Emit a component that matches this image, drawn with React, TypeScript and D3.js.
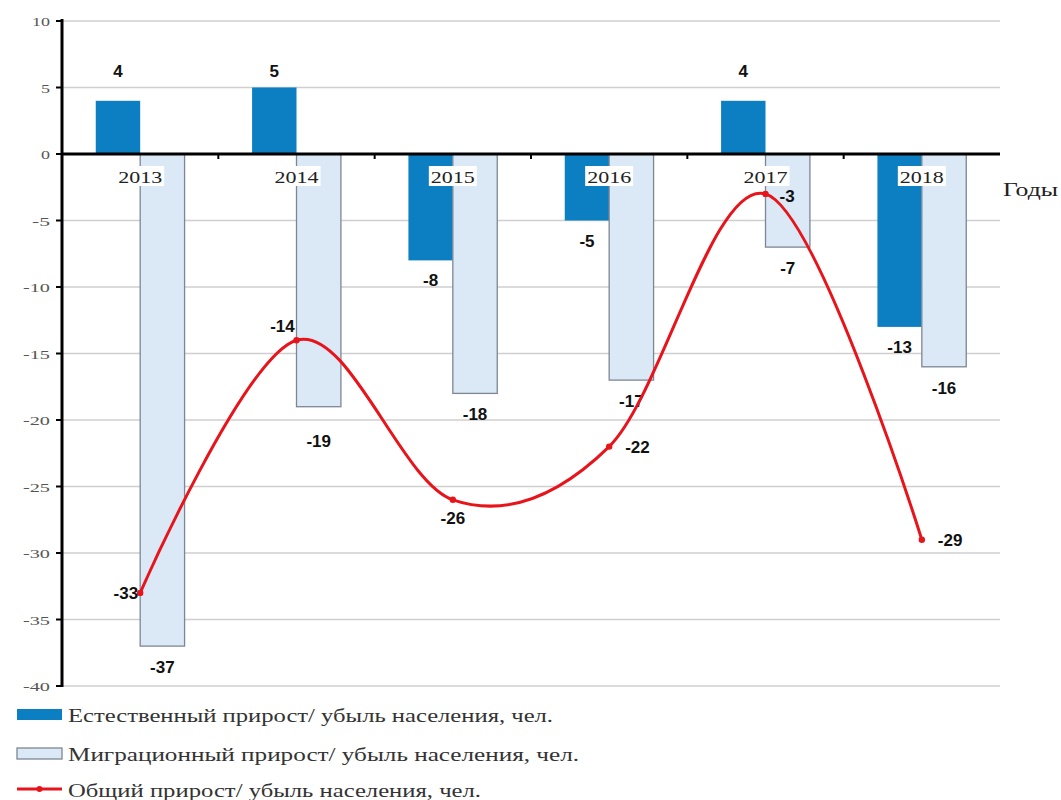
import * as d3 from 'd3'
import React from 'react'

const years = ['2013', '2014', '2015', '2016', '2017', '2018']
const natural = [4, 5, -8, -5, 4, -13]
const migration = [-37, -19, -18, -17, -7, -16]
const total = [-33, -14, -26, -22, -3, -29]
const yTicks = [10, 5, 0, -5, -10, -15, -20, -25, -30, -35, -40]
const legendLabels = [
  'Естественный прирост/ убыль населения, чел.',
  'Миграционный прирост/ убыль населения, чел.',
  'Общий прирост/ убыль населения, чел.',
]
// where each total label sits relative to its point
const totalLabelPos = ['left', 'aboveLeft', 'below', 'right', 'rightUp', 'right']

const W = 1061
const H = 800
const left = 62
const right = 1000
const top = 21
const bottom = 686

const BLUE = '#0b7fc1'
const LIGHT = '#dbe8f6'
const RED = '#e8141b'
const serif = '"Liberation Serif", "DejaVu Serif", serif'
const sans = '"Liberation Sans", Arial, sans-serif'

const App = () => {
  const y = d3.scaleLinear().domain([-40, 10]).range([bottom, top])
  const x = d3.scaleBand().domain(years).range([left, right]).padding(0)
  const x1 = d3.scaleBand().domain(['nat', 'mig']).range([0, x.bandwidth()]).paddingInner(0).paddingOuter(0.76)
  const cx = (yr) => x(yr) + x.bandwidth() / 2

  const line = d3
    .line()
    .x((d, i) => cx(years[i]))
    .y((d) => y(d))
    .curve(d3.curveCardinal.tension(0))

  const y0 = y(0)

  const labelProps = (pos, px, py) => {
    switch (pos) {
      case 'left':
        return { x: px - 2, y: py + 6, anchor: 'end' }
      case 'aboveLeft':
        return { x: px - 14, y: py - 8, anchor: 'middle' }
      case 'below':
        return { x: px, y: py + 24, anchor: 'middle' }
      case 'rightUp':
        return { x: px + 14, y: py + 8, anchor: 'start' }
      default:
        return { x: px + 16, y: py + 6, anchor: 'start' }
    }
  }

  return (
    <svg width={W} height={H} style={{ position: 'absolute', left: 0, top: 0, background: '#fff' }}>
      {/* gridlines */}
      {yTicks.map((t) => (
        <line key={'g' + t} x1={left} x2={right} y1={y(t)} y2={y(t)} stroke="#cfcfcf" strokeWidth={1.5} />
      ))}

      {/* bars */}
      {years.map((yr, i) => {
        const v = natural[i]
        return (
          <rect
            key={'n' + yr}
            x={x(yr) + x1('nat')}
            y={Math.min(y(v), y0)}
            width={x1.bandwidth()}
            height={Math.abs(y(v) - y0)}
            fill={BLUE}
          />
        )
      })}
      {years.map((yr, i) => {
        const v = migration[i]
        return (
          <rect
            key={'m' + yr}
            x={x(yr) + x1('mig')}
            y={Math.min(y(v), y0)}
            width={x1.bandwidth()}
            height={Math.abs(y(v) - y0)}
            fill={LIGHT}
            stroke="#7d8794"
            strokeWidth={1.3}
          />
        )
      })}

      {/* axes */}
      <line x1={left} x2={left} y1={top - 2} y2={bottom + 1} stroke="#000" strokeWidth={3} />
      {yTicks.map((t) => (
        <g key={'t' + t}>
          <line x1={left - 6} x2={left} y1={y(t)} y2={y(t)} stroke="#000" strokeWidth={2} />
          <text
            x={left - 12}
            y={y(t) + 5}
            textAnchor="end"
            fontFamily={serif}
            fontSize={13}
            fill="#555"
            textLength={String(t).length * 9}
            lengthAdjust="spacingAndGlyphs"
          >
            {t}
          </text>
        </g>
      ))}
      <line x1={left} x2={right} y1={y0} y2={y0} stroke="#000" strokeWidth={3} />
      {years.slice(1).map((yr) => (
        <line key={'xt' + yr} x1={x(yr)} x2={x(yr)} y1={y0} y2={y0 + 5} stroke="#000" strokeWidth={2} />
      ))}

      {/* year labels */}
      {years.map((yr) => (
        <g key={'yl' + yr}>
          <rect x={cx(yr) - 24} y={y0 + 12} width={48} height={20} fill="#fff" />
          <text
            x={cx(yr)}
            y={y0 + 29}
            textAnchor="middle"
            fontFamily={serif}
            fontSize={16}
            fill="#222"
            textLength={44}
            lengthAdjust="spacingAndGlyphs"
          >
            {yr}
          </text>
        </g>
      ))}
      <text
        x={1003}
        y={196}
        fontFamily={serif}
        fontSize={19}
        fill="#222"
        textLength={55}
        lengthAdjust="spacingAndGlyphs"
      >
        Годы
      </text>

      {/* bar labels */}
      {years.map((yr, i) => {
        const v = natural[i]
        const ly = v >= 0 ? y(5) - 11 : y(v) + 26
        return (
          <text
            key={'nl' + yr}
            x={x(yr) + x1('nat') + x1.bandwidth() / 2}
            y={ly}
            textAnchor="middle"
            fontFamily={sans}
            fontWeight="bold"
            fontSize={17}
            fill="#111"
          >
            {v}
          </text>
        )
      })}
      {years.map((yr, i) => {
        const v = migration[i]
        return (
          <text
            key={'ml' + yr}
            x={x(yr) + x1('mig') + x1.bandwidth() / 2}
            y={y(v) + (v === -19 ? 40 : 27)}
            textAnchor="middle"
            fontFamily={sans}
            fontWeight="bold"
            fontSize={17}
            fill="#111"
          >
            {v}
          </text>
        )
      })}

      {/* total line */}
      <path d={line(total)} fill="none" stroke={RED} strokeWidth={3} />
      {total.map((v, i) => (
        <circle key={'c' + i} cx={cx(years[i])} cy={y(v)} r={3.2} fill={RED} />
      ))}
      {total.map((v, i) => {
        const p = labelProps(totalLabelPos[i], cx(years[i]), y(v))
        return (
          <text
            key={'tl' + i}
            x={p.x}
            y={p.y}
            textAnchor={p.anchor}
            fontFamily={sans}
            fontWeight="bold"
            fontSize={17}
            fill="#111"
          >
            {v}
          </text>
        )
      })}

      {/* legend */}
      <g>
        <rect x={17} y={709} width={45} height={11} fill={BLUE} />
        <text x={68} y={722} fontFamily={serif} fontSize={19} fill="#333" textLength={485} lengthAdjust="spacingAndGlyphs">
          {legendLabels[0]}
        </text>
        <rect x={17} y={748} width={45} height={11} fill={LIGHT} stroke="#7d8794" strokeWidth={1.3} />
        <text x={68} y={761} fontFamily={serif} fontSize={19} fill="#333" textLength={511} lengthAdjust="spacingAndGlyphs">
          {legendLabels[1]}
        </text>
        <line x1={17} x2={62} y1={789} y2={789} stroke={RED} strokeWidth={3} />
        <circle cx={39.5} cy={789} r={3} fill={RED} />
        <text x={68} y={797} fontFamily={serif} fontSize={19} fill="#333" textLength={413} lengthAdjust="spacingAndGlyphs">
          {legendLabels[2]}
        </text>
      </g>
    </svg>
  )
}

export default App
